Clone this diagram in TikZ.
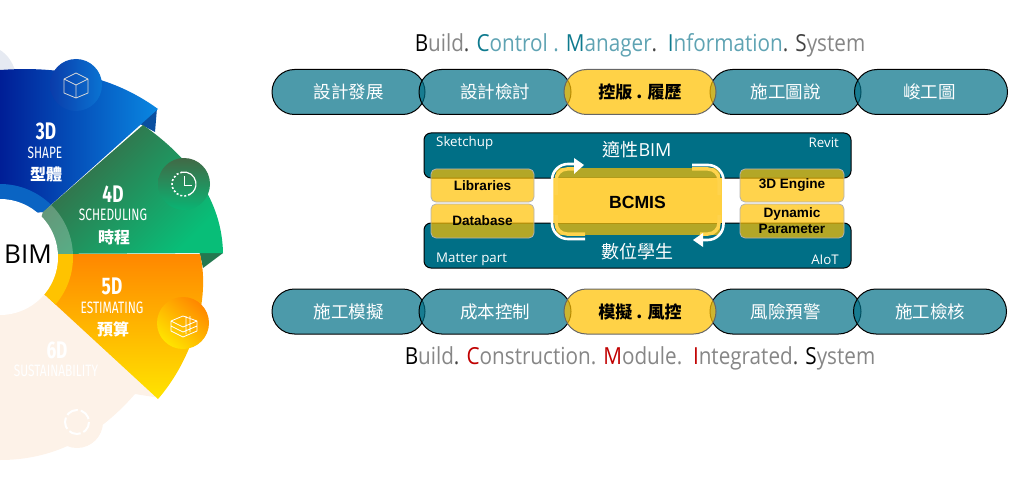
\documentclass[tikz,border=0pt]{standalone}
\usepackage{fontspec}
\setmainfont{Open Sans}
\newfontfamily\cjk{Noto Sans CJK TC}
\newfontfamily\cond[FakeStretch=0.72]{Fira Sans}
\newfontfamily\ttl[FakeStretch=0.88]{Open Sans}
\newfontfamily\arial{Liberation Sans}
\usetikzlibrary{arrows.meta}
\definecolor{teal}{HTML}{006F86}
\definecolor{tlt}{HTML}{5FA3B3}
\definecolor{tdk}{HTML}{0E7A8E}
\definecolor{gry}{HTML}{868686}
\definecolor{dgr}{HTML}{444444}
\definecolor{rd}{HTML}{C00000}
\definecolor{yel}{HTML}{FFC000}
\definecolor{pale}{HTML}{FDF2E8}
\definecolor{paleb}{HTML}{E6EAF2}
\definecolor{navy}{HTML}{001E96}
\definecolor{skyb}{HTML}{0A87E1}
\definecolor{foldb}{HTML}{0A4FA0}
\definecolor{bandb}{HTML}{0A64C3}
\definecolor{circa}{HTML}{0A3CAA}
\definecolor{circb}{HTML}{0A73D2}
\definecolor{foldg}{HTML}{237850}
\definecolor{orng}{HTML}{FF8700}
\definecolor{yl}{HTML}{FFE400}
\definecolor{bandy}{HTML}{FFC300}
\definecolor{dkg}{HTML}{3E6040}
\definecolor{grn}{HTML}{08BE78}
\definecolor{clka}{HTML}{416946}
\definecolor{clkb}{HTML}{0AB473}
\tikzset{
  pill/.style={draw=black,line width=1pt,fill=teal,fill opacity=.7,text opacity=1,rounded corners=22.5pt,minimum height=45pt,inner sep=0pt,text=white,font=\cjk\fontsize{17.5}{18}\selectfont},
  ypill/.style={pill,draw=black!60,fill=yel,fill opacity=.72,text=black,font=\cjk\bfseries\fontsize{17}{18}\selectfont},
  band/.style={draw=black,line width=1pt,fill=teal,rounded corners=7pt},
  ybox/.style={draw=black!30,line width=.8pt,fill=yel,fill opacity=.7,text opacity=1,rounded corners=5pt,inner sep=0pt,align=center,text=black,font=\arial\bfseries\fontsize{13.6}{16}\selectfont},
  small/.style={text=white,inner sep=0pt,font=\fontsize{13.3}{14}\selectfont},
  big/.style={text=white,inner sep=0pt,font=\cjk\fontsize{18}{19}\selectfont},
  ttext/.style={inner sep=0pt,font=\ttl\fontsize{23.5}{26}\selectfont},
  wnum/.style={text=white,inner sep=0pt,font=\cond\bfseries\fontsize{24}{25}\selectfont},
  wname/.style={text=white,inner sep=0pt,font=\cond\fontsize{16.5}{17}\selectfont},
  wcjk/.style={text=white,inner sep=0pt,font=\cjk\bfseries\fontsize{16}{17}\selectfont},
  icon/.style={draw=white!85!black,line width=.8pt,line join=round},
  warrow/.style={draw=white,line width=2.6pt},
  yarc/.style={draw=yel!70!white,line width=3.5pt,line cap=butt}
}
\begin{document}
\begin{tikzpicture}[x=1pt,y=-1pt]
\useasboundingbox (0,0) rectangle (1024,481);
\clip (0,0) rectangle (1024,481);
% ---- wheel
\fill[paleb] (0,50) .. controls (8,55) and (12,62) .. (15,70) -- (0,70) -- cycle;
% 6D
\fill[pale] (30,270) -- (160,398) -- (135,394) .. controls (95,440) and (50,460) .. (0,460) -- (0,270) -- cycle;
\fill[pale] (77,422) circle (26);
\node[wnum,text=white] (n6) at (57,350) {6D};
\node[wname,text=white] (e6) at (56,371) {SUSTAINABILITY};
\draw[white,line width=2pt,dash pattern=on 12pt off 3pt] (77,422) circle (12);
% 3D
\fill[foldb] (157,108) -- (155,132) -- (140,124) -- cycle;
\shade[left color=navy,right color=skyb]
  (0,70) .. controls (55,66) and (110,74) .. (158,109) -- (43,212) -- (0,215) -- cycle;
\begin{scope}
  \clip (0,70) .. controls (55,66) and (110,74) .. (158,109) -- (43,212) -- (0,215) -- cycle;
  \fill[bandb] (0,257) circle (73);
\end{scope}
\shade[left color=circa,right color=circb] (76,85) circle (26);
\draw[icon] (76,73) -- (64,79) -- (64,93) -- (76,98) -- (88,93) -- (88,79) -- cycle (64,79) -- (76,85) -- (88,79) (76,85) -- (76,98);
\node[wnum] (n3) at (46,131) {3D};
\node[wname] (e3) at (45,153) {SHAPE};
\node[wcjk] (c3) at (46,174) {型體};
% 4D fold
\fill[foldg] (223,253) -- (203,268) -- (199,250) -- cycle;
% 5D
\shade[top color=orng,bottom color=yl]
  (30,254) -- (200,254) .. controls (211,300) and (192,360) .. (158,399) -- (43,293) -- cycle;
\begin{scope}
  \clip (30,254) -- (200,254) -- (204,290) -- (158,399) -- (43,293) -- cycle;
  \fill[bandy] (0,257) circle (73);
\end{scope}
\shade[top color=orng,bottom color=yl,shading angle=-40] (183,323) circle (26);
\draw[icon,white] (171,321) -- (183,316) -- (197,321) -- (197,331) -- (183,337) -- (171,331) -- cycle (171,326) -- (183,332) -- (197,326) (171,321) -- (183,327) -- (197,321) (186,316) -- (186,334) (190,316) -- (190,332);
\node[wnum] (n5) at (112,286) {5D};
\node[wname] (e5) at (112,308) {ESTIMATING};
\node[wcjk] (c5) at (113,329) {預算};
% 4D
\shade[top color=dkg,bottom color=grn,shading angle=45]
  (143,125) .. controls (190,158) and (222,200) .. (223,253) -- (30,254) -- (43,212) -- cycle;
\begin{scope}
  \clip (143,125) -- (223,253) -- (30,254) -- (43,212) -- cycle;
  \fill[white,opacity=.25] (0,257) circle (73);
\end{scope}
\shade[top color=clka,bottom color=clkb] (184,184) circle (26);
\draw[white,line width=1.2pt] (184,184) ++(-100:12) arc (-100:60:12);
\draw[white,line width=1.6pt,dash pattern=on 2pt off 2pt] (184,184) ++(60:12) arc (60:260:12);
\draw[white,line width=1pt] (184,176) -- (184,185) -- (192,185);
\node[wnum] (n4) at (113,194) {4D};
\node[wname] (e4) at (113,215) {SCHEDULING};
\node[wcjk] (c4) at (114,237) {時程};
% centre
\fill[white] (0,257) circle (58);
\node[inner sep=0pt,font=\fontsize{26}{28}\selectfont] (bim) at (28,254) {BIM};
% ---- titles
\node[ttext] (t1) at (640,45) {\textcolor{black}{B}\textcolor{gry}{uild}\textcolor{dgr}{ . }\textcolor{tdk}{C}\textcolor{tlt}{ontrol . }\textcolor{tdk}{M}\textcolor{tlt}{anager}\textcolor{dgr}{.\ \ }\textcolor{tdk}{I}\textcolor{tlt}{nformation}\textcolor{dgr}{ . S}\textcolor{gry}{ystem}};
\node[ttext] (t2) at (640,358) {\textcolor{black}{B}\textcolor{gry}{uild}\textcolor{dgr}{ . }\textcolor{rd}{C}\textcolor{gry}{onstruction. }\textcolor{rd}{M}\textcolor{gry}{odule.\ \ }\textcolor{rd}{I}\textcolor{gry}{ntegrated}\textcolor{dgr}{ . }\textcolor{black}{S}\textcolor{gry}{ystem}};
% ---- top row
\node[pill,minimum width=153pt] (a1) at (348.5,92) {設計發展};
\node[pill,minimum width=152pt] (a2) at (495,92) {設計檢討};
\node[pill,minimum width=151pt] (a4) at (785.5,92) {施工圖說};
\node[pill,minimum width=153pt] (a5) at (931,92) {\hspace*{-3pt}峻工圖};
\node[ypill,minimum width=152pt] (a3) at (640,92) {控版 . 履歷};
% ---- bottom row
\node[pill,minimum width=153pt] (b1) at (348.5,311.5) {施工模擬};
\node[pill,minimum width=152pt] (b2) at (495,311.5) {成本控制};
\node[pill,minimum width=151pt] (b4) at (785.5,311.5) {風險預警};
\node[pill,minimum width=153pt] (b5) at (930,311.5) {施工檢核};
\node[ypill,minimum width=152pt] (b3) at (640,311.5) {模擬 . 風控};
% ---- middle
\path[band] (424,133) rectangle (851,178);
\path[band] (424,223) rectangle (851,268);
\node[small,anchor=west] (s1) at (436,143) {Sketchup};
\node[small,anchor=east] (s2) at (839,143) {Revit};
\node[small,anchor=west] (s3) at (436,259.5) {Matter part};
\node[small,anchor=east] (s4) at (839,259.5) {AIoT};
\node[big] (s5) at (637,150) {\cjk 適性{\fontspec{Open Sans}BIM}};
\node[big] (s6) at (637,252) {數位學生};
\node[ybox,minimum width=103pt,minimum height=33pt] (l1) at (482.5,185.5) {Libraries};
\node[ybox,minimum width=103pt,minimum height=34pt] (l2) at (482.5,221) {Database};
\node[ybox,minimum width=104pt,minimum height=33pt] (r1) at (792,185.5) {3D Engine};
\node[ybox,minimum width=104pt,minimum height=34pt] (r2) at (792,221) {Dynamic\\Parameter};
% central box
\fill[white] (551,178) rectangle (724,223);
\fill[yel,opacity=.7] (556,168) rectangle (720,235);
\fill[yel!75!white] (553,178) rectangle (722,223);
\node[inner sep=0pt,font=\arial\bfseries\fontsize{17.6}{18}\selectfont] (c) at (637.5,202) {BCMIS};
% yellow arcs
\draw[yarc] (556,195) -- (556,180) arc (180:270:11) -- (575,169);
\draw[yarc] (692,169) -- (708,169) arc (-90:0:11) -- (719,195);
\draw[yarc] (719,215) -- (719,223) arc (0:90:11) -- (700,234);
\draw[yarc] (585,234) -- (567,234) arc (90:180:11) -- (556,215);
% white arrows
\draw[warrow] (552,215) -- (552,180) arc (180:270:16) -- (575,164);
\fill[white] (574,158) -- (584,165) -- (574,174) -- cycle;
\draw[warrow] (692,165) -- (708,165) arc (-90:0:15.5) -- (723.5,215);
\draw[warrow] (723.5,215) -- (723.5,224) arc (0:90:16) -- (702,240);
\fill[white] (703,233) -- (693,240) -- (703,247) -- cycle;
\draw[warrow] (585,239) -- (568,239) arc (90:180:16) -- (552,215);
\end{tikzpicture}
\end{document}
